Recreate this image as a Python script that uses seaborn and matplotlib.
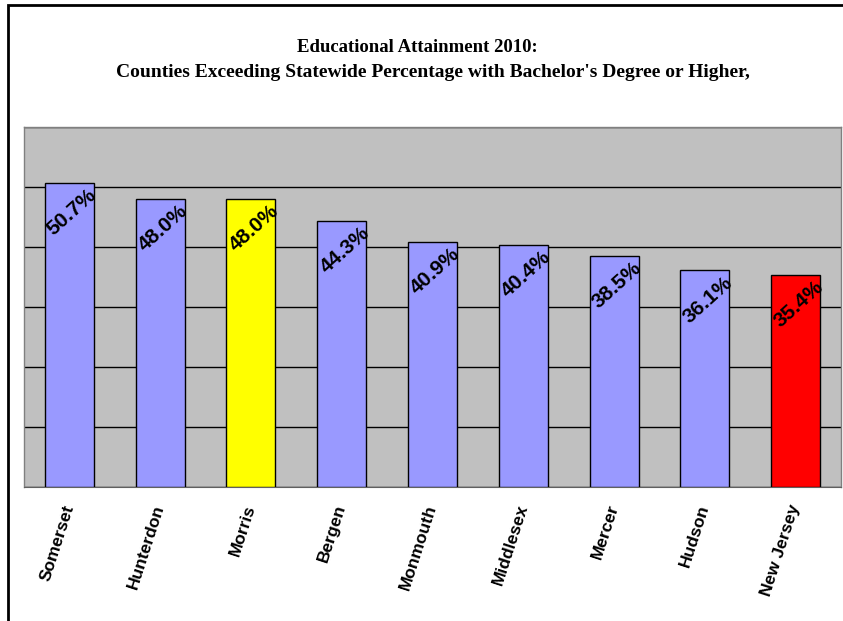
import matplotlib
matplotlib.use("Agg")
import matplotlib.pyplot as plt
import seaborn as sns
import pandas as pd
import numpy as np
from matplotlib.patches import Rectangle

# dati
contee = ["Somerset", "Hunterdon", "Morris", "Bergen", "Monmouth",
          "Middlesex", "Mercer", "Hudson", "New Jersey"]
percentuali = [50.7, 48.0, 48.0, 44.3, 40.9, 40.4, 38.5, 36.1, 35.4]
colori = ["#9999FF", "#9999FF", "#FFFF00", "#9999FF", "#9999FF",
          "#9999FF", "#9999FF", "#9999FF", "#FF0000"]
etichette = [f"{v:.1f}%" for v in percentuali]
titolo_1 = "Educational Attainment 2010:"
titolo_2 = "Counties Exceeding Statewide Percentage with Bachelor's Degree or Higher,"

df = pd.DataFrame({"contea": contee, "valore": percentuali})

sns.set_style("white")
plt.rcParams["font.family"] = ["Liberation Sans", "DejaVu Sans"]
plt.rcParams["text.color"] = "black"
plt.rcParams["xtick.color"] = "black"
plt.rcParams["xtick.labelcolor"] = "black"

fig = plt.figure(figsize=(8.43, 6.21), dpi=100)
ax = fig.add_axes([24 / 843, 134 / 621, 817 / 843, 360 / 621])
ax.set_facecolor("#C0C0C0")

sns.barplot(data=df, x="contea", y="valore", hue="contea", palette=colori,
            legend=False, width=0.54, edgecolor="black", linewidth=1,
            saturation=1, ax=ax, zorder=3)

ax.set_ylim(0, 60)
ax.set_xlim(-0.5, len(contee) - 0.5)
ax.set_yticks(np.arange(0, 61, 10))
ax.set_yticklabels([])
ax.tick_params(axis="y", length=0)
ax.grid(axis="y", color="black", linewidth=1, zorder=1)
ax.set_axisbelow(True)

# tick alle separazioni tra categorie
ax.set_xticks(np.arange(len(contee)))
ax.set_xticks(np.arange(-0.5, len(contee)), minor=True)
ax.tick_params(axis="x", which="major", length=0, pad=13, colors="black")
ax.tick_params(axis="x", which="minor", length=6, color="#808080", width=1)
ax.set_xticklabels(contee, rotation=72, ha="right", va="center",
                   rotation_mode="anchor", fontsize=12.5, fontweight="bold",
                   color="black")
ax.set_xlabel("")
ax.set_ylabel("")

for lato in ["left", "top", "right"]:
    ax.spines[lato].set_color("#808080")
    ax.spines[lato].set_linewidth(1)
ax.spines["bottom"].set_color("#606060")

# etichette dei valori
for i, (v, t) in enumerate(zip(percentuali, etichette)):
    ax.text(i + 0.03, v - 4.9, t, rotation=42, ha="center", va="center",
            fontsize=15, fontweight="bold", color="black", zorder=4)

# titolo su due righe (la seconda è leggermente spostata a destra come nell'originale)
serif = ["Liberation Serif", "DejaVu Serif"]
fig.text(417 / 843, 1 - 47.5 / 621, titolo_1, ha="center", va="center",
         fontsize=13.5, fontweight="bold", family=serif, color="black")
fig.text(433 / 843, 1 - 72.5 / 621, titolo_2, ha="center", va="center",
         fontsize=14, fontweight="bold", family=serif, color="black")

# bordo della figura (solo sinistra e sopra visibili)
fig.patches.append(Rectangle((7.5 / 843, -0.1), 1.2, (616.5 / 621) + 0.1,
                             transform=fig.transFigure, fill=False,
                             edgecolor="black", linewidth=2))

fig.savefig("out.png", dpi=100)
